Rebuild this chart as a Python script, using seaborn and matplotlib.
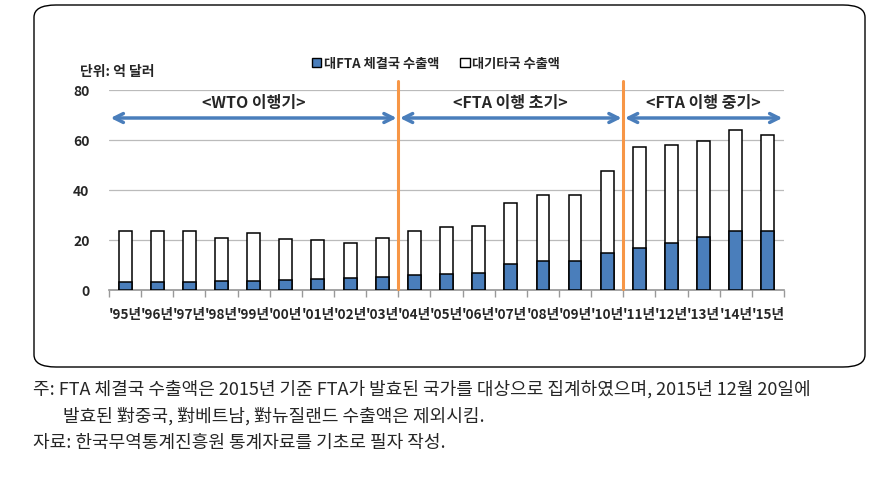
import numpy as np
import pandas as pd
import seaborn as sns
import matplotlib.pyplot as plt
from matplotlib.patches import FancyBboxPatch, Patch

# data (unit: 100 million USD)
years = ["'95년", "'96년", "'97년", "'98년", "'99년", "'00년", "'01년", "'02년", "'03년", "'04년",
         "'05년", "'06년", "'07년", "'08년", "'09년", "'10년", "'11년", "'12년", "'13년", "'14년", "'15년"]
fta_export = [3.2, 3.2, 3.2, 3.7, 3.7, 4.1, 4.6, 4.8, 5.1, 5.9,
              6.4, 6.8, 10.4, 11.6, 11.6, 14.8, 16.8, 18.8, 21.2, 23.6, 23.6]
total_export = [23.5, 23.8, 23.5, 20.8, 22.9, 20.3, 19.9, 18.7, 20.8, 23.5,
                25.1, 25.6, 34.8, 38.0, 38.0, 47.6, 57.2, 58.0, 59.8, 64.2, 62.0]
period_labels = ["<WTO 이행기>", "<FTA 이행 초기>", "<FTA 이행 중기>"]
period_bounds = [(-0.5, 8.5), (8.5, 15.5), (15.5, 20.5)]

df = pd.DataFrame({"year": years, "fta": fta_export, "total": total_export})

sns.set_theme(style="white")
plt.rcParams['font.family'] = ['Noto Sans CJK KR', 'DejaVu Sans']

fig = plt.figure(figsize=(8.82, 4.89), dpi=100)
ax = fig.add_axes([109 / 882, 1 - 291 / 489, (784 - 109) / 882, 200 / 489])

# outer rounded frame
box = FancyBboxPatch((34 / 882, 1 - 368 / 489), (865 - 34) / 882, (368 - 6) / 489,
                     boxstyle="round,pad=0,rounding_size=0.025", transform=fig.transFigure,
                     facecolor="none", edgecolor="black", linewidth=1.0)
fig.patches.append(box)

# white total bar, blue FTA bar on top
sns.barplot(data=df, x="year", y="total", color="white", edgecolor="black",
            linewidth=1.1, width=0.4, saturation=1, ax=ax, zorder=3)
sns.barplot(data=df, x="year", y="fta", color="#4A7EBB", edgecolor="black",
            linewidth=1.1, width=0.4, saturation=1, ax=ax, zorder=4)

ax.set_ylim(0, 80)
ax.set_xlim(-0.5, 20.5)
ax.set_yticks([0, 20, 40, 60, 80])
ax.yaxis.grid(True, color="#BBBBBB", linewidth=0.9)
ax.set_axisbelow(True)
for s in ["top", "right", "left"]:
    ax.spines[s].set_visible(False)
ax.spines["bottom"].set_color("#999999")
ax.set_xlabel("")
ax.set_ylabel("")
ax.set_xticks(np.arange(-0.5, 21, 1), minor=True)
ax.tick_params(axis="x", which="minor", length=5, color="#999999", bottom=True)
ax.tick_params(axis="x", which="major", length=0, pad=12, labelsize=9.8)
ax.tick_params(axis="y", length=0, pad=14, labelsize=10)
for lab in ax.get_xticklabels() + ax.get_yticklabels():
    lab.set_fontweight("bold")

# period separators, arrows and labels
for x in [8.5, 15.5]:
    ax.plot([x, x], [0.5, 83.5], color="#F79646", linewidth=2.2, clip_on=False, zorder=5)
for (x0, x1), lab in zip(period_bounds, period_labels):
    ax.annotate("", xy=(x0 + 0.05, 68.8), xytext=(x1 - 0.05, 68.8),
                arrowprops=dict(arrowstyle="<->", color="#4A7EBB", lw=2.5,
                                mutation_scale=16, shrinkA=0, shrinkB=0),
                annotation_clip=False)
    ax.text((x0 + x1) / 2, 75.2, lab, ha="center", va="center",
            fontsize=11.5, fontweight="bold")

# legend and unit
handles = [Patch(facecolor="#4A7EBB", edgecolor="black", label="대FTA 체결국 수출액"),
           Patch(facecolor="white", edgecolor="black", label="대기타국 수출액")]
fig.legend(handles=handles, loc="center", bbox_to_anchor=(436 / 882, 1 - 64 / 489),
           ncol=2, frameon=False, handlelength=0.7, handleheight=0.7,
           handletextpad=0.2, columnspacing=1.6, prop={"weight": "bold", "size": 9.5})
fig.text(80 / 882, 1 - 72 / 489, "단위: 억 달러", fontsize=10, fontweight="bold",
         va="center", ha="left")

# notes below the frame
fig.text(33 / 882, 1 - 389 / 489,
         "주: FTA 체결국 수출액은 2015년 기준 FTA가 발효된 국가를 대상으로 집계하였으며, 2015년 12월 20일에",
         fontsize=13, va="center", ha="left")
fig.text(63 / 882, 1 - 416 / 489, "발효된 對중국, 對베트남, 對뉴질랜드 수출액은 제외시킴.",
         fontsize=13, va="center", ha="left")
fig.text(33 / 882, 1 - 443 / 489, "자료: 한국무역통계진흥원 통계자료를 기초로 필자 작성.",
         fontsize=13, va="center", ha="left")

fig.savefig("out.png", dpi=100)
